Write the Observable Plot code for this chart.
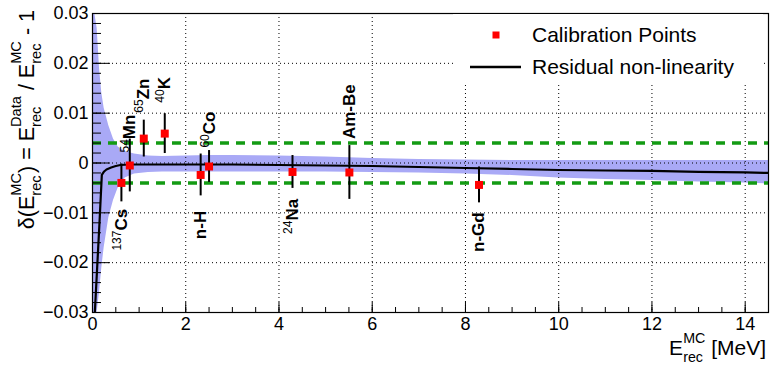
<!DOCTYPE html>
<html><head><meta charset="utf-8">
<script src="https://cdn.jsdelivr.net/npm/d3@7"></script>
<script src="https://cdn.jsdelivr.net/npm/@observablehq/plot@0.6"></script>
<style>body{margin:0;background:#fff;}</style>
</head><body><div id="chart"></div>
<script>
// ---- data ----
const calibIsotope = ["137|Cs","54|Mn","65|Zn","40|K","n-H","60|Co","24|Na","Am-Be","n-Gd"];
const calibE      = [0.62, 0.80, 1.10, 1.55, 2.32, 2.50, 4.29, 5.51, 8.29];
const calibDelta  = [-0.0040, -0.0005, 0.0049, 0.0059, -0.0024, -0.0007, -0.0018, -0.0019, -0.0044];
const calibErr    = [0.0038, 0.0053, 0.0037, 0.0040, 0.0042, 0.0032, 0.0033, 0.0054, 0.0036];
const labelSide   = ["below","above","above","above","below","above","below","above","below"];
const labelAt     = [-0.0092, 0.0021, 0.0101, 0.0121, -0.0096, 0.0031, -0.0072, 0.0048, -0.0099];

const curveE     = [0.05, 0.10, 0.15, 0.20, 0.25, 0.30, 0.40, 0.50, 0.60, 0.80, 1.0, 2.0, 3.0, 4.0, 5.0, 6.0, 7.0, 8.0, 9.0, 10.0, 11.0, 12.0, 13.0, 14.0, 14.5];
const curveDelta = [-0.0300, -0.0210, -0.0120, -0.0024, -0.0017, -0.0013, -0.0009, -0.0006, -0.0004, -0.0003, -0.0003, -0.0003, -0.0003, -0.0004, -0.0005, -0.0006, -0.0008, -0.0010, -0.0012, -0.0014, -0.0015, -0.0016, -0.0018, -0.0019, -0.0020];

const bandE  = [0, 0.05, 0.10, 0.15, 0.20, 0.25, 0.35, 0.45, 0.55, 0.70, 0.90, 1.2, 1.5, 2.0, 2.5, 3.0, 4.0, 5.0, 6.0, 7.0, 8.0, 9.0, 10.0, 11.0, 12.0, 13.0, 14.0, 14.5];
const bandHi = [0.030, 0.030, 0.027, 0.019, 0.014, 0.011, 0.0075, 0.0048, 0.0032, 0.0023, 0.0018, 0.0014, 0.0013, 0.0014, 0.0015, 0.0015, 0.0014, 0.0012, 0.0009, 0.0007, 0.0006, 0.0005, 0.0005, 0.0005, 0.0005, 0.0005, 0.0005, 0.0005];
const bandLo = [-0.030, -0.030, -0.030, -0.026, -0.021, -0.017, -0.011, -0.0075, -0.005, -0.003, -0.0022, -0.0019, -0.0018, -0.0018, -0.0018, -0.0018, -0.0018, -0.0018, -0.0019, -0.0020, -0.0022, -0.0025, -0.0030, -0.0033, -0.0035, -0.0038, -0.0040, -0.0042];

const greenLevels = [-0.004, 0.004];
const xTicks = [0, 2, 4, 6, 8, 10, 12, 14];
const xGridTicks = [2, 4, 6, 8, 10, 12, 14];
const yTicks = [-0.03, -0.02, -0.01, 0, 0.01, 0.02, 0.03];
const yTickLabels = ["\u22120.03", "\u22120.02", "\u22120.01", "0", "0.01", "0.02", "0.03"];
const yGridTicks = [-0.02, -0.01, 0, 0.01, 0.02];
const xMinorTicks = d3.range(0, 30).map(i => i * 0.5);
const yMinorTicks = d3.range(-15, 16).map(i => i * 0.002);

// ---- tables ----
const calib = calibE.map((e, i) => ({e, d: calibDelta[i], err: calibErr[i], label: calibIsotope[i], side: labelSide[i], at: labelAt[i]}));
const band = bandE.map((e, i) => ({e, hi: bandHi[i], lo: bandLo[i]}));
const curve = curveE.map((e, i) => ({e, d: curveDelta[i]}));

const FONT = "'Liberation Sans', Arial, Helvetica, sans-serif";

const chart = Plot.plot({
  width: 773, height: 367,
  marginLeft: 92, marginRight: 5, marginTop: 13, marginBottom: 55,
  x: {domain: [0, 14.5]},
  y: {domain: [-0.03, 0.03]},
  style: {fontFamily: FONT, fontSize: "18px", color: "black", background: "white", overflow: "visible"},
  marks: [
    Plot.areaY(band, {x: "e", y1: "lo", y2: "hi", fill: "#a9a9f6", clip: true}),
    Plot.gridX(xGridTicks, {stroke: "black", strokeOpacity: 1, strokeWidth: 1, strokeDasharray: "1,3"}),
    Plot.gridY(yGridTicks, {stroke: "black", strokeOpacity: 1, strokeWidth: 1, strokeDasharray: "1,3"}),
    Plot.ruleY(greenLevels, {stroke: "#139b13", strokeWidth: 3.5, strokeDasharray: "9,7"}),
    Plot.line(curve, {x: "e", y: "d", stroke: "black", strokeWidth: 2.2, clip: true}),
    Plot.ruleX(calib, {x: "e", y1: d => d.d - d.err, y2: d => d.d + d.err, stroke: "black", strokeWidth: 2}),
    Plot.dot(calib, {x: "e", y: "d", symbol: "square", fill: "#ff0000", stroke: "none", r: 4.5}),
    Plot.text(calib.filter(d => d.side === "above"), {x: "e", y: "at", text: "label", rotate: -90, textAnchor: "start", fontWeight: "bold", fontSize: 17, fill: "black"}),
    Plot.text(calib.filter(d => d.side === "below"), {x: "e", y: "at", text: "label", rotate: -90, textAnchor: "end", fontWeight: "bold", fontSize: 17, fill: "black"}),
    Plot.axisX(xTicks, {tickSize: -10, tickFormat: () => "", label: null, strokeWidth: 1}),
    Plot.axisX(xMinorTicks, {tickSize: -5, tickFormat: () => "", label: null, strokeWidth: 1}),
    Plot.axisX(xTicks, {tickSize: 0, tickPadding: 5, fontSize: 18, label: null}),
    Plot.axisY(yTicks, {tickSize: -18, tickFormat: () => "", label: null, strokeWidth: 1}),
    Plot.axisY(yMinorTicks, {tickSize: -9, tickFormat: () => "", label: null, strokeWidth: 1}),
    Plot.axisY(yTicks, {tickSize: 0, tickPadding: 4, fontSize: 18, label: null, tickFormat: d => yTickLabels[yTicks.indexOf(d)]}),
    Plot.frame({stroke: "black", strokeWidth: 1.2})
  ]
});
document.getElementById("chart").appendChild(chart);

const svg = d3.select(chart);

// superscripted isotope numbers
svg.selectAll("text").each(function () {
  if (this.children.length) return;
  const t = d3.select(this);
  const s = t.text();
  if (s.includes("|")) {
    const [n, el] = s.split("|");
    t.text(null);
    t.append("tspan").attr("font-size", 12).attr("font-weight", "normal").attr("dy", -6).text(n);
    t.append("tspan").attr("dy", 6).text(el);
  }
});

// rich text helper: parts = [{t}, {sub, sup}]
function rich(parent, parts, fs, ratio, anchorEnd) {
  const g = parent.append("g").attr("font-family", FONT).attr("fill", "black").attr("text-anchor", "start");
  let cx = 0;
  const sfs = fs * ratio;
  for (const p of parts) {
    if (p.t !== undefined) {
      const el = g.append("text").attr("x", cx).attr("y", 0).attr("font-size", fs).style("white-space", "pre").text(p.t);
      cx += el.node().getComputedTextLength();
    } else {
      let w = 0;
      if (p.sup) { const el = g.append("text").attr("x", cx).attr("y", -fs * 0.58).attr("font-size", sfs).text(p.sup); w = Math.max(w, el.node().getComputedTextLength()); }
      if (p.sub) { const el = g.append("text").attr("x", cx).attr("y", fs * 0.33).attr("font-size", sfs).text(p.sub); w = Math.max(w, el.node().getComputedTextLength()); }
      cx += w;
    }
  }
  if (anchorEnd) g.selectAll("text").attr("x", function () { return +this.getAttribute("x") - cx; });
  return g;
}

// y-axis title
const yt = svg.append("g").attr("transform", "translate(33.5,10) rotate(-90)");
rich(yt, [{t: "\u03b4(E"}, {sub: "rec", sup: "MC"}, {t: ") = E"}, {sub: "rec", sup: "Data"}, {t: " / E"}, {sub: "rec", sup: "MC"}, {t: " - 1"}], 21.5, 0.68, true);

// x-axis title
const xt = svg.append("g").attr("transform", "translate(766,355)");
rich(xt, [{t: "E"}, {sub: "rec", sup: "MC"}, {t: " [MeV]"}], 21, 0.68, true);

// legend
const lg = svg.append("g").attr("text-anchor", "start").attr("font-family", FONT);
lg.append("rect").attr("x", 453).attr("y", 14).attr("width", 310).attr("height", 68).attr("fill", "white");
lg.append("rect").attr("x", 492.5).attr("y", 31.5).attr("width", 7).attr("height", 7).attr("fill", "#ff0000");
lg.append("text").attr("x", 532).attr("y", 35).attr("dy", "0.35em").attr("font-size", 21).text("Calibration Points");
lg.append("line").attr("x1", 470).attr("x2", 521).attr("y1", 67).attr("y2", 67).attr("stroke", "black").attr("stroke-width", 2.5);
lg.append("text").attr("x", 532).attr("y", 67).attr("dy", "0.35em").attr("font-size", 21).text("Residual non-linearity");
</script>
</body></html>
